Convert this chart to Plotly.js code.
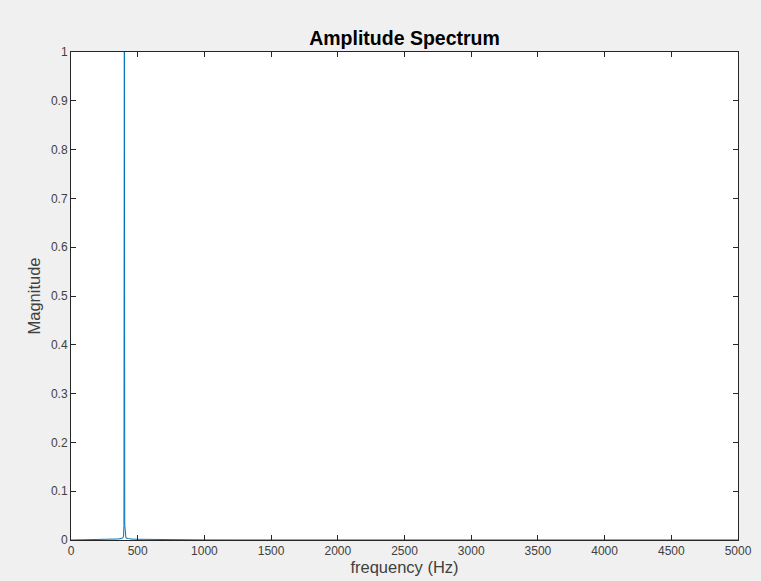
<!DOCTYPE html>
<html><head><meta charset="utf-8">
<script src="https://cdn.plot.ly/plotly-3.0.1.min.js"></script>
<style>html,body{margin:0;padding:0;background:#f0f0f0;}#chart{width:761px;height:581px;}</style>
</head><body><div id="chart"></div>
<script>
const frequency = [0, 100, 200, 250, 300, 350, 375, 388, 394, 397, 398.5, 400, 401.5, 403, 406, 412, 430, 450, 500, 600, 700, 750, 1000, 1500, 2000, 2500, 3000, 3500, 4000, 4500, 5000];
const magnitude = [0, 0.0002, 0.0005, 0.001, 0.0015, 0.002, 0.003, 0.004, 0.008, 0.03, 0.65, 1.0, 0.6, 0.03, 0.008, 0.004, 0.003, 0.002, 0.0015, 0.001, 0.0008, 0.0003, 0.0002, 0.0001, 0.0001, 0.0001, 0.0001, 0.0001, 0.0001, 0.0001, 0.0001];
const xTicks = [0, 500, 1000, 1500, 2000, 2500, 3000, 3500, 4000, 4500, 5000];
const yTicks = [0, 0.1, 0.2, 0.3, 0.4, 0.5, 0.6, 0.7, 0.8, 0.9, 1];

const FONT = 'Liberation Sans, Arial, Helvetica, sans-serif';
const axisCommon = {
  showgrid: false, zeroline: false, showline: true, mirror: 'ticks',
  linecolor: '#262626', linewidth: 1, ticks: 'inside', ticklen: 5,
  tickcolor: '#262626', tickfont: {family: FONT, size: 12, color: '#404040'}
};
Plotly.newPlot('chart', [{
  x: frequency, y: magnitude, type: 'scatter', mode: 'lines',
  line: {color: '#0072BD', width: 1}
}], {
  width: 761, height: 581,
  paper_bgcolor: '#f0f0f0', plot_bgcolor: '#ffffff',
  margin: {l: 71, r: 23, t: 52, b: 41},
  showlegend: false,
  title: {text: '<b>Amplitude Spectrum</b>', xref: 'paper', x: 0.5, xanchor: 'center', y: 0.935, yanchor: 'middle',
    font: {family: FONT, size: 19.5, color: '#000'}},
  xaxis: Object.assign({}, axisCommon, {range: [0, 5000], tickvals: xTicks, ticktext: xTicks.map(String),
    title: {text: 'frequency (Hz)', standoff: 3, font: {family: FONT, size: 16.5, color: '#404040'}}}),
  yaxis: Object.assign({}, axisCommon, {range: [0, 1], tickvals: yTicks, ticktext: yTicks.map(String),
    title: {text: 'Magnitude', standoff: 6, font: {family: FONT, size: 16.5, color: '#404040'}}})
}, {displayModeBar: false, staticPlot: true});
</script></body></html>
